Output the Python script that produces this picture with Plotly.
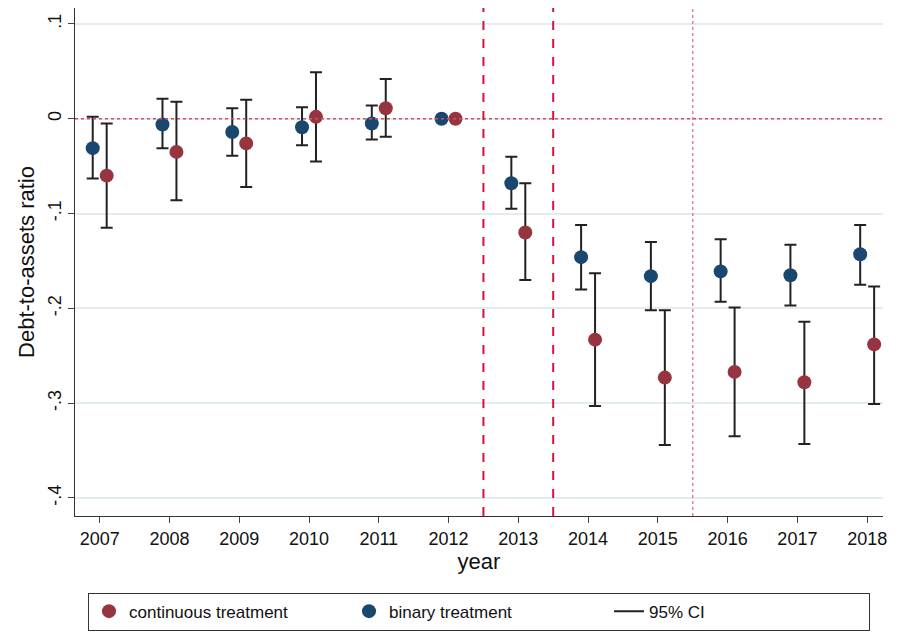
import plotly.graph_objects as go

years = [2007, 2008, 2009, 2010, 2011, 2012, 2013, 2014, 2015, 2016, 2017, 2018]
bin_est = [-0.031, -0.006, -0.014, -0.009, -0.005, 0.0, -0.068, -0.146, -0.166, -0.161, -0.165, -0.143]
bin_hi = [0.002, 0.021, 0.011, 0.012, 0.014, 0.0, -0.040, -0.112, -0.130, -0.127, -0.133, -0.112]
bin_lo = [-0.063, -0.031, -0.039, -0.028, -0.022, 0.0, -0.095, -0.180, -0.202, -0.193, -0.197, -0.175]
con_est = [-0.060, -0.035, -0.026, 0.002, 0.011, 0.0, -0.120, -0.233, -0.273, -0.267, -0.278, -0.238]
con_hi = [-0.005, 0.018, 0.020, 0.049, 0.042, 0.0, -0.068, -0.163, -0.202, -0.199, -0.214, -0.177]
con_lo = [-0.115, -0.086, -0.072, -0.045, -0.019, 0.0, -0.170, -0.303, -0.344, -0.335, -0.343, -0.301]
yticks = [0.1, 0, -0.1, -0.2, -0.3, -0.4]
ytext = [".1", "0", "-.1", "-.2", "-.3", "-.4"]

RED = "#963540"
BLUE = "#1a476f"

def eb(est, hi, lo):
    return dict(type="data", symmetric=False,
                array=[h - e for h, e in zip(hi, est)],
                arrayminus=[e - l for e, l in zip(est, lo)],
                color="#222", thickness=2, width=6)

fig = go.Figure()
fig.add_trace(go.Scatter(x=[y + 0.1 for y in years], y=con_est, mode="markers",
                         marker=dict(color=RED, size=14), error_y=eb(con_est, con_hi, con_lo),
                         name="continuous treatment"))
fig.add_trace(go.Scatter(x=[y - 0.1 for y in years], y=bin_est, mode="markers",
                         marker=dict(color=BLUE, size=14), error_y=eb(bin_est, bin_hi, bin_lo),
                         name="binary treatment"))
fig.add_trace(go.Scatter(x=[None], y=[None], mode="lines", line=dict(color="#222", width=2),
                         name="95% CI"))

fig.add_hline(y=0, line=dict(color="#d05060", dash="dot", width=1.5))
fig.add_vline(x=2012.5, line=dict(color="#d0143c", dash="dash", width=2))
fig.add_vline(x=2013.5, line=dict(color="#d0143c", dash="dash", width=2))
fig.add_vline(x=2015.5, line=dict(color="#e080a0", dash="dot", width=1.5))

fig.update_layout(
    width=899, height=632, paper_bgcolor="white", plot_bgcolor="white",
    margin=dict(l=67, r=24, t=0, b=124, autoexpand=False),
    font=dict(family="Liberation Sans, Arial", size=18, color="#111"),
    showlegend=True,
    legend=dict(orientation="h", x=0.5, xanchor="center", yref="container", y=0.075, yanchor="top",
                bordercolor="#333", borderwidth=1, font=dict(size=17),
                entrywidthmode="pixels", entrywidth=215, tracegroupgap=0),
)
fig.update_xaxes(range=[2006.646, 2018.227], tickvals=years, showgrid=False, showline=True,
                 linecolor="#333", linewidth=1, ticks="outside", ticklen=6, automargin=False,
                 title=dict(text="year", standoff=4), mirror=False, zeroline=False)
fig.update_yaxes(range=[-0.419, 0.1168], tickvals=yticks, ticktext=ytext, tickangle=-90,
                 showgrid=True, gridcolor="#e3ecef", gridwidth=1.5, showline=True, automargin=False,
                 linecolor="#333", linewidth=1, ticks="outside", ticklen=6, zeroline=False,
                 title=dict(text="Debt-to-assets ratio", standoff=4))
fig.write_html("out.html")
